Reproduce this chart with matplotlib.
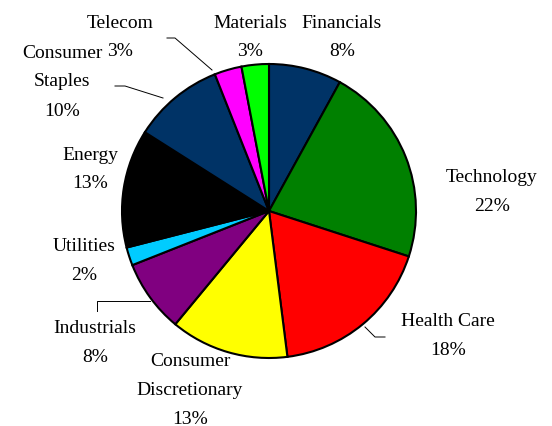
import matplotlib.pyplot as plt

# sector weights, clockwise from 12 o'clock
sectors = ['Financials', 'Technology', 'Health Care', 'Consumer\nDiscretionary',
           'Industrials', 'Utilities', 'Energy', 'Consumer\nStaples', 'Telecom', 'Materials']
weights = [8, 22, 18, 13, 8, 2, 13, 10, 3, 3]
colores = ['#003366', '#008000', '#FF0000', '#FFFF00', '#800080',
           '#00CCFF', '#000000', '#003366', '#FF00FF', '#00FF00']

plt.rcParams['font.family'] = ['Liberation Serif', 'DejaVu Serif']

fig = plt.figure(figsize=(5.52, 4.27), dpi=100)
ax = fig.add_axes([0, 0, 1, 1])
ax.set_xlim(0, 552)
ax.set_ylim(0, 427)
ax.set_aspect('equal')
ax.axis('off')

H = 427
ax.pie(weights, colors=colores, startangle=90, counterclock=False,
       center=(269, H - 212), radius=147, frame=True,
       wedgeprops=dict(edgecolor='black', linewidth=1.5))
ax.set_xlim(0, 552)
ax.set_ylim(0, 427)
ax.axis('off')

# label positions (pixel coords from top)
pos = {
    'Financials': (342, 23),
    'Technology': (492, 178),
    'Health Care': (448, 322),
    'Consumer\nDiscretionary': (190, 362),
    'Industrials': (95, 329),
    'Utilities': (84, 247),
    'Energy': (90, 155),
    'Consumer\nStaples': (62, 53),
    'Telecom': (120, 23),
    'Materials': (250, 23),
}
for s, w in zip(sectors, weights):
    x, y = pos[s]
    lines = s.split('\n') + ['%d%%' % w]
    for i, t in enumerate(lines):
        ax.text(x, H - (y + i * 29), t, ha='center', va='center', fontsize=14)

# leader lines
kw = dict(color='black', linewidth=0.7)
ax.plot([167, 175, 212], [H - 39, H - 39, H - 71], **kw)
ax.plot([115, 125, 163], [H - 87, H - 87, H - 99], **kw)
ax.plot([97, 97, 150], [H - 312, H - 302, H - 302], **kw)
ax.plot([365, 375, 385], [H - 328, H - 338, H - 338], **kw)

fig.savefig('out.png', dpi=100)
